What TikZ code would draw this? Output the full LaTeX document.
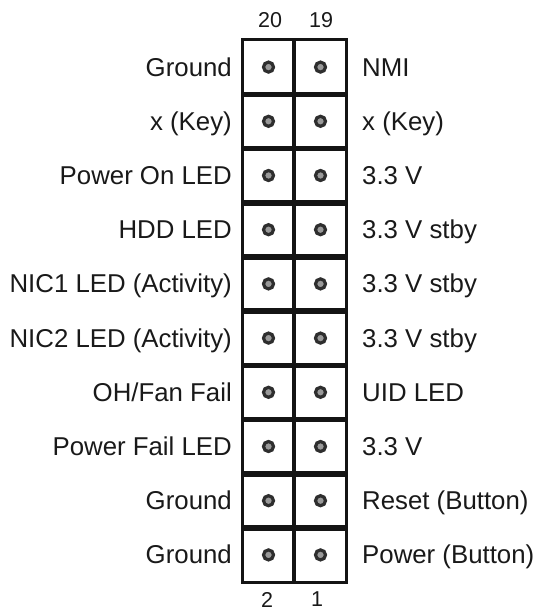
\documentclass[tikz,border=0pt]{standalone}
\usepackage{fontspec}
\setmainfont{Liberation Sans}
\begin{document}
\begin{tikzpicture}[x=1pt,y=-1pt,
  lbl/.style={font=\fontsize{25.8}{30}\selectfont, text=black!90, inner sep=0pt},
  lblL/.style={lbl, anchor=base east},
  lblR/.style={lbl, anchor=base west},
  num/.style={font=\fontsize{21.5}{26}\selectfont, text=black!90, inner sep=0pt, anchor=center},
  cell/.style={rectangle, minimum width=51pt, minimum height=54.2pt, inner sep=0pt},
  pin/.style={circle, draw=black!82, fill=black!40, line width=3.2pt, minimum size=10pt, inner sep=0pt},
  frame/.style={line width=3pt, draw=black!92},
  sep/.style={line width=5.5pt, draw=black!92},
  mid/.style={line width=3.6pt, draw=black!92}]
\useasboundingbox (0,0) rectangle (534,612);
% cells, pins and labels
\foreach \i/\lt/\rt in {1/Ground/NMI, 2/x (Key)/x (Key), 3/Power On LED/3.3 V, 4/HDD LED/3.3 V stby,
  5/NIC1 LED (Activity)/3.3 V stby, 6/NIC2 LED (Activity)/3.3 V stby, 7/OH\slash Fan Fail/UID LED,
  8/Power Fail LED/3.3 V, 9/Ground/Reset (Button), 10/Ground/Power (Button)} {
  \pgfmathsetmacro{\yc}{40+(\i-0.5)*54.2}
  \pgfmathsetmacro{\yb}{\yc+9}
  \node[cell] (cL\i) at (268.5,\yc) {};
  \node[cell] (cR\i) at (320.5,\yc) {};
  \node[pin] (pL\i) at (cL\i.center) {};
  \node[pin] (pR\i) at (cR\i.center) {};
  \node[lblL] (tL\i) at (232,\yb) {\lt};
  \node[lblR] (tR\i) at (362,\yb) {\rt};
}
% grid
\foreach \k in {1,...,9} {
  \draw[sep] (cL\k.south west) -- (cR\k.south east);
}
\draw[mid] (cL1.north east) -- (cL10.south east);
\draw[frame] (cL1.north west) rectangle (cR10.south east);
% pin numbers
\node[num] (n20) at (270,20) {20};
\node[num] (n19) at (321,20) {19};
\node[num] (n2) at (267,599.5) {2};
\node[num] (n1) at (317,599.5) {1};
\end{tikzpicture}
\end{document}
